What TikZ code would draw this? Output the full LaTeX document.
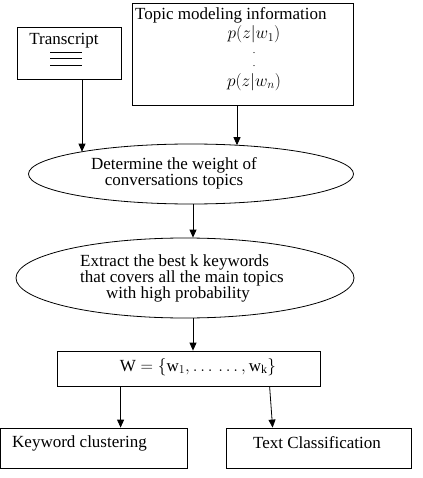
\documentclass[tikz,border=0pt]{standalone}
\usepackage{fontspec}
\setmainfont{Liberation Serif}
\usetikzlibrary{shapes.geometric,arrows.meta}
\begin{document}
\begin{tikzpicture}[x=1pt,y=1pt,
  box/.style={draw,line width=0.8pt,inner sep=0pt},
  oval/.style={draw,ellipse,line width=0.8pt,inner sep=0pt},
  lbl/.style={font=\fontsize{17}{16}\selectfont,inner sep=0pt},
  dotlbl/.style={font=\fontsize{10}{10}\selectfont,inner sep=0pt,text height=1pt,text depth=0pt},
  arr/.style={line width=0.8pt,-{Triangle[length=8pt,width=7pt]}}]
\useasboundingbox (0,0) rectangle (422,-478);
% boxes
\node[box,minimum width=104pt,minimum height=52pt] (tr) at (69,-53) {};
\node[lbl] (trt) at (64,-41) {Transcript};
\draw[line width=0.6pt] (50,-52) -- (82,-52) (50,-58) -- (82,-58) (50,-65) -- (82,-65);
\node[box,minimum width=221pt,minimum height=102pt] (tm) at (242.5,-54) {};
\node[lbl,anchor=west] (tmt) at (135,-15.5) {Topic modeling information};
\node[lbl] (p1) at (254,-34.5) {$p(z|w_1)$};
\node[dotlbl] (d1) at (254,-53) {.};
\node[dotlbl] (d2) at (254,-66) {.};
\node[lbl] (pn) at (254,-82) {$p(z|w_n)$};
% ellipses
\node[oval,minimum width=325pt,minimum height=60pt] (e1) at (191,-174) {};
\node[lbl,align=center] (e1t) at (174,-173) {Determine the weight of\\conversations topics};
\node[oval,minimum width=338pt,minimum height=80pt] (e2) at (185,-278) {};
\node[lbl,align=left,anchor=west] (e2t) at (80,-278) {Extract the best k keywords\\that covers all the main topics\\\hspace*{26pt}with high probability};
% W box
\node[box,minimum width=263pt,minimum height=35pt] (w) at (188.5,-368.5) {};
\node[lbl] (wt) at (198,-367) {$\mathrm{W}=\{\mathrm{w}_1,\ldots\,\ldots,\mathrm{w}_\mathrm{k}\}$};
% bottom boxes
\node[box,minimum width=187pt,minimum height=40pt] (kc) at (93.5,-448) {};
\node[lbl,anchor=west] (kct) at (12,-443) {Keyword clustering};
\node[box,minimum width=185pt,minimum height=40pt] (tc) at (318.5,-448) {};
\node[lbl] (tct) at (317,-443) {Text Classification};
% connectors
\coordinate (a1) at (82,-151.7);
\coordinate (a2) at (237,-145.2);
\draw[arr] (tr.south -| a1) -- (a1);
\draw[arr] (tm.south -| a2) -- (a2);
\draw[arr] ([xshift=2pt]e1.south) -- ([xshift=8pt]e2.north);
\draw[arr] ([xshift=8pt]e2.south) -- ([xshift=4.5pt]w.north);
\draw[arr] ([xshift=64pt]w.south west) -- ([xshift=121pt]kc.north west);
\draw[arr] ([xshift=213pt]w.south west) -- ([xshift=47pt]tc.north west);
\end{tikzpicture}
\end{document}
